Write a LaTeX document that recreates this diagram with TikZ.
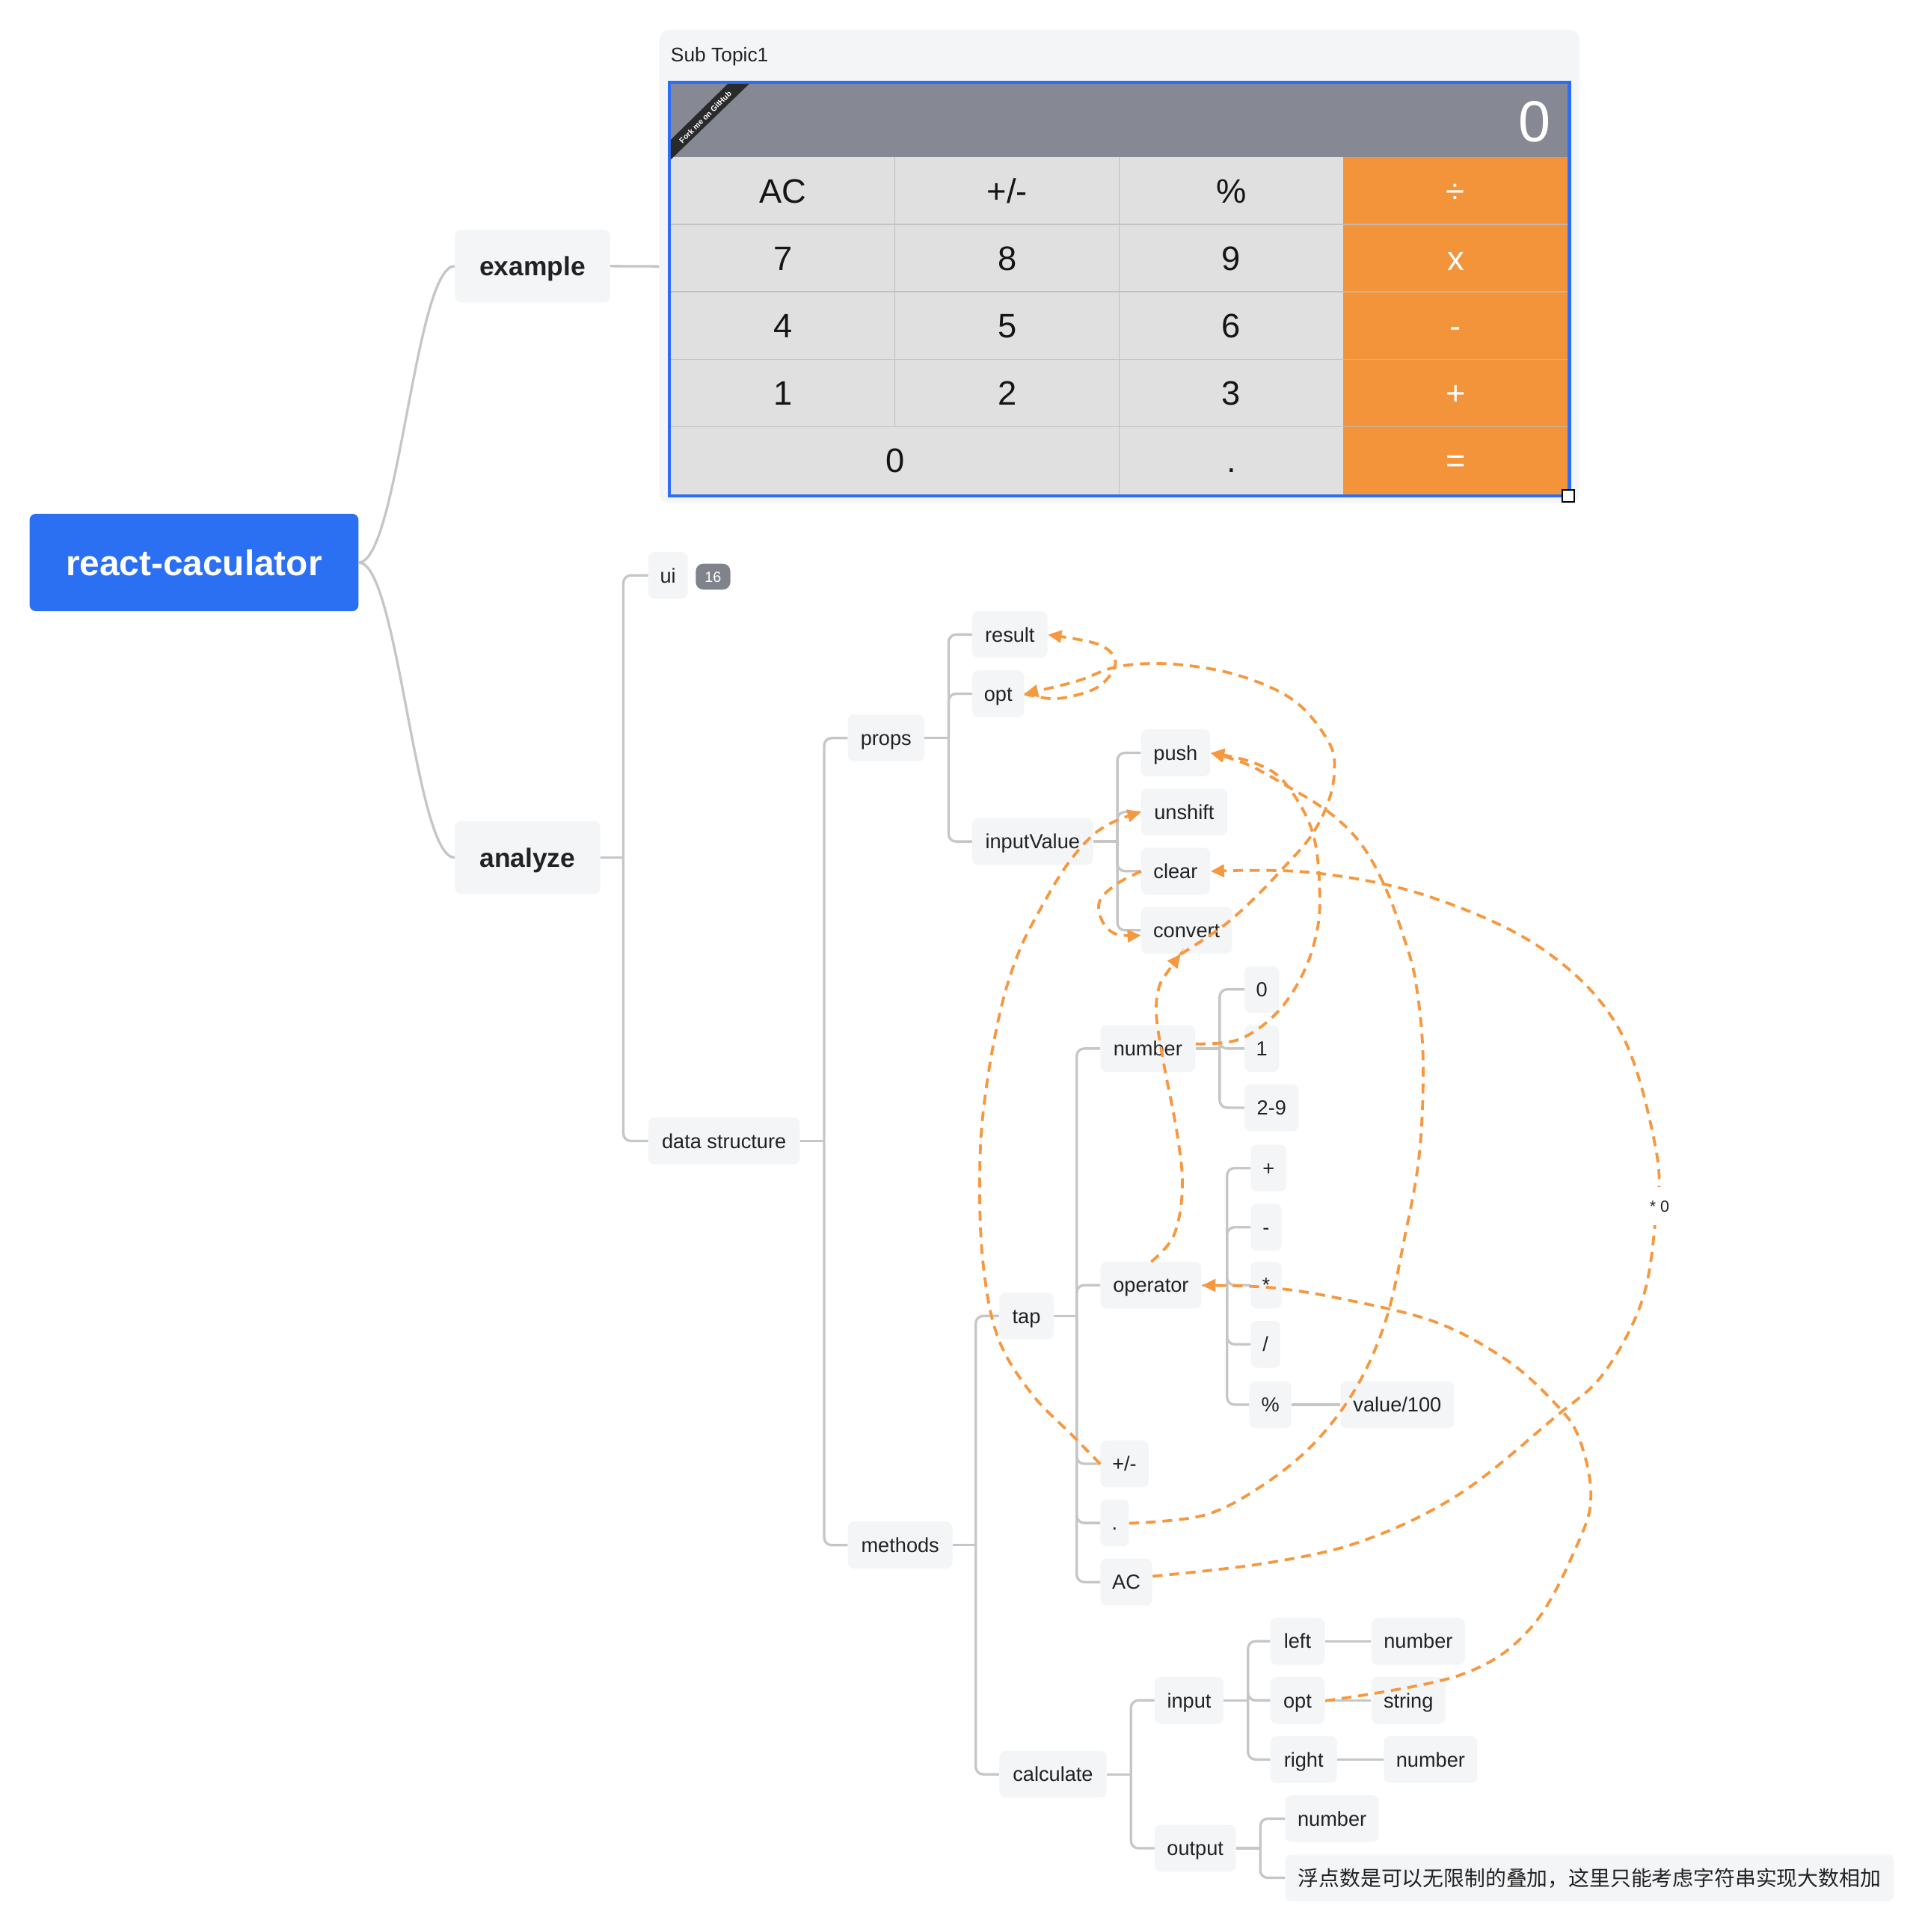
\documentclass[tikz,border=0pt]{standalone}
\usepackage{fontspec}
\setmainfont{Liberation Sans}
\newfontfamily\cjkfont{Noto Sans CJK SC}
\usetikzlibrary{arrows.meta,calc}
\definecolor{nodefill}{HTML}{F4F5F7}
\definecolor{conngray}{HTML}{C6C6C6}
\definecolor{rootblue}{HTML}{2B70F2}
\definecolor{frameblue}{HTML}{2B6DF6}
\definecolor{dispgray}{HTML}{868893}
\definecolor{keygray}{HTML}{E0E0E0}
\definecolor{keyline}{HTML}{BEBEC2}
\definecolor{keyorange}{HTML}{F3943B}
\definecolor{relorange}{HTML}{F7983F}
\definecolor{badgegray}{HTML}{80838B}
\definecolor{txt}{HTML}{222222}
\definecolor{calctxt}{HTML}{151515}
\definecolor{ribbon}{HTML}{2A2A2A}
\begin{document}
\begin{tikzpicture}[x=1pt,y=-1pt,
  topic/.style={fill=nodefill, rounded corners=5pt, anchor=west, minimum height=38pt,
    inner sep=0pt, text=txt, font=\fontsize{16.5}{20}\selectfont, text height=11.8pt, text depth=0pt},
  bw/.style={minimum width=#1pt},
  bigtopic/.style={fill=nodefill, rounded corners=5pt, anchor=west, minimum height=59pt,
    inner sep=0pt, text=txt, font=\bfseries\fontsize{21.5}{24}\selectfont, text height=15.4pt, text depth=0pt},
  badge/.style={fill=badgegray, rounded corners=6pt, text=white, minimum width=28pt,
    minimum height=21pt, inner sep=0pt, font=\fontsize{12}{12}\selectfont, text height=8.6pt, text depth=0pt},
  conn/.style={draw=conngray, line width=2pt, rounded corners=6pt},
  rel/.style={draw=relorange, line width=2.3pt, dash pattern=on 8pt off 5.5pt,
    -{Triangle[length=11pt,width=10pt]}},
  keytxt/.style={font=\fontsize{27.5}{30}\selectfont, text height=19.7pt, text depth=0pt,
    inner sep=0pt, text=calctxt},
  optxt/.style={keytxt, text=white},
]
\useasboundingbox (0,0) rectangle (1562,1568);
\fill[white] (0,0) rectangle (1562,1568);

% ---------- root and main branches
\node[fill=rootblue, rounded corners=5pt, minimum width=267pt, minimum height=79pt, inner sep=0pt,
  text=white, font=\bfseries\fontsize{29}{32}\selectfont, text height=20.8pt, text depth=0pt]
  (root) at (157.5,456.5) {react-caculator};
\node[bigtopic,bw=126] (example) at (369,216) {example};
\node[bigtopic,bw=118] (analyze) at (369,696) {analyze};

% ---------- Sub Topic1 container with calculator
\node[fill=nodefill, rounded corners=8pt, minimum width=747pt, minimum height=384pt,
  inner sep=0pt, anchor=north west] (sub) at (535,24) {};
\node[anchor=base west, inner sep=0pt, text=txt, font=\fontsize{16}{16}\selectfont]
  (subt) at (544.3,50.2) {Sub Topic1};
\fill[frameblue] (542,65.5) rectangle (1275.5,403.5);
\fill[dispgray] (544.5,68) rectangle (1272.5,127.5);
\fill[keygray] (544.5,127.5) rectangle (1090.5,401);
\fill[keyorange] (1090.5,127.5) rectangle (1272.5,401);
\foreach \yy in {182.2,236.9,291.6,346.3}
  \draw[keyline, line width=1pt, opacity=0.85] (544.5,\yy) -- (1272.5,\yy);
\draw[keyline, line width=0.8pt] (726.5,127.5) -- (726.5,346.3);
\draw[keyline, line width=0.8pt] (908.5,127.5) -- (908.5,401);
% ribbon
\fill[ribbon] (544.5,113.4) -- (590.8,68) -- (608.2,68) -- (544.5,129.5) -- cycle;
\node[rotate=45, text=white, inner sep=0pt, font=\bfseries\fontsize{6.3}{7}\selectfont]
  (fork) at (572.5,95) {Fork me on GitHub};
\node[anchor=east, text=white, inner sep=0pt, font=\fontsize{47}{50}\selectfont,
  text height=33.7pt, text depth=0pt] (disp) at (1259,98) {0};
% keys
\node[keytxt] (kAC) at (635.5,154.85) {AC};
\node[keytxt] (kPM) at (817.5,154.85) {+/-};
\node[keytxt] (kPc) at (999.5,154.85) {\%};
\node[optxt]  (kDv) at (1181.5,154.85) {÷};
\node[keytxt] (k7) at (635.5,209.55) {7};
\node[keytxt] (k8) at (817.5,209.55) {8};
\node[keytxt] (k9) at (999.5,209.55) {9};
\node[optxt]  (kX) at (1181.5,209.55) {x};
\node[keytxt] (k4) at (635.5,264.25) {4};
\node[keytxt] (k5) at (817.5,264.25) {5};
\node[keytxt] (k6) at (999.5,264.25) {6};
\node[optxt]  (kMi) at (1181.5,264.25) {-};
\node[keytxt] (k1) at (635.5,318.95) {1};
\node[keytxt] (k2) at (817.5,318.95) {2};
\node[keytxt] (k3) at (999.5,318.95) {3};
\node[optxt]  (kPl) at (1181.5,318.95) {+};
\node[keytxt] (k0) at (726.5,373.65) {0};
\node[keytxt] (kDt) at (999.5,373.65) {.};
\node[optxt]  (kEq) at (1181.5,373.65) {=};
\draw[black, fill=white, line width=1pt] (1268,397.5) rectangle (1278,407.5);

% ---------- analyze subtree nodes
\node[topic,bw=32] (ui) at (526,467) {ui};
\node[badge] (badge) at (578.8,468) {16};
\node[topic,bw=123] (ds) at (526,926) {data structure};
\node[topic,bw=62] (props) at (688,599) {props};
\node[topic,bw=85] (methods) at (688,1254) {methods};
\node[topic,bw=61] (result) at (789,515) {result};
\node[topic,bw=42] (opt) at (789,563) {opt};
\node[topic,bw=98] (inputValue) at (789,683) {inputValue};
\node[topic,bw=56] (push) at (926,611) {push};
\node[topic,bw=70] (unshift) at (926,659) {unshift};
\node[topic,bw=56] (clear) at (926,707) {clear};
\node[topic,bw=74] (convert) at (926,755) {convert};
\node[topic,bw=44] (tap) at (811,1068) {tap};
\node[topic,bw=87] (calculate) at (811,1440) {calculate};
\node[topic,bw=77] (number) at (893,851) {number};
\node[topic,bw=82] (operator) at (893,1043) {operator};
\node[topic,bw=39] (pm) at (893,1188) {+/-};
\node[topic,bw=23] (dot) at (893,1236) {.};
\node[topic,bw=42] (ac) at (893,1284) {AC};
\node[topic,bw=28] (n0) at (1010,803) {0};
\node[topic,bw=28] (n1) at (1010,851) {1};
\node[topic,bw=44] (n29) at (1010,899) {2-9};
\node[topic,bw=29] (plus) at (1015,948) {+};
\node[topic,bw=25] (minus) at (1015,996) {-};
\node[topic,bw=25] (times) at (1015,1043) {*};
\node[topic,bw=24] (divide) at (1015,1091) {/};
\node[topic,bw=34] (pct) at (1014,1140) {\%};
\node[topic,bw=92] (val) at (1088,1140) {value/100};
\node[topic,bw=56] (input) at (937,1380) {input};
\node[topic,bw=66] (output) at (937,1500) {output};
\node[topic,bw=44] (left) at (1031,1332) {left};
\node[topic,bw=44] (opt2) at (1031,1380) {opt};
\node[topic,bw=54] (right) at (1031,1428) {right};
\node[topic,bw=76] (numL) at (1113,1332) {number};
\node[topic,bw=60] (str) at (1113,1380) {string};
\node[topic,bw=76] (numR) at (1123,1428) {number};
\node[topic,bw=76] (numO) at (1043,1476) {number};
\node[topic,bw=494, font=\cjkfont\fontsize{16.9}{20}\selectfont, text height=12.9pt]
  (cn) at (1043,1524) {浮点数是可以无限制的叠加，这里只能考虑字符串实现大数相加};

% ---------- tree connectors
\draw[conn] (root.east) .. controls +(32,0) and +(-32,0) .. (example.west);
\draw[conn] (root.east) .. controls +(32,0) and +(-32,0) .. (analyze.west);
\draw[conn] (example.east) -- (sub.west);

\coordinate (sA) at (506,696);
\draw[conn] (analyze.east) -- (sA);
\foreach \c in {ui,ds} \draw[conn] (sA) |- (\c.west);

\coordinate (sDS) at (669,926);
\draw[conn] (ds.east) -- (sDS);
\foreach \c in {props,methods} \draw[conn] (sDS) |- (\c.west);

\coordinate (sP) at (770,599);
\draw[conn] (props.east) -- (sP);
\foreach \c in {result,opt,inputValue} \draw[conn] (sP) |- (\c.west);

\coordinate (sIV) at (907,683);
\draw[conn] (inputValue.east) -- (sIV);
\foreach \c in {push,unshift,clear,convert} \draw[conn] (sIV) |- (\c.west);

\coordinate (sM) at (792,1254);
\draw[conn] (methods.east) -- (sM);
\foreach \c in {tap,calculate} \draw[conn] (sM) |- (\c.west);

\coordinate (sT) at (874,1068);
\draw[conn] (tap.east) -- (sT);
\foreach \c in {number,operator,pm,dot,ac} \draw[conn] (sT) |- (\c.west);

\coordinate (sN) at (990,851);
\draw[conn] (number.east) -- (sN);
\foreach \c in {n0,n1,n29} \draw[conn] (sN) |- (\c.west);

\coordinate (sO) at (996,1043);
\draw[conn] (operator.east) -- (sO);
\foreach \c in {plus,minus,times,divide,pct} \draw[conn] (sO) |- (\c.west);
\draw[conn] (pct.east) -- (val.west);

\coordinate (sC) at (918,1440);
\draw[conn] (calculate.east) -- (sC);
\foreach \c in {input,output} \draw[conn] (sC) |- (\c.west);

\coordinate (sI) at (1013,1380);
\draw[conn] (input.east) -- (sI);
\foreach \c in {left,opt2,right} \draw[conn] (sI) |- (\c.west);
\draw[conn] (left.east) -- (numL.west);
\draw[conn] (opt2.east) -- (str.west);
\draw[conn] (right.east) -- (numR.west);

\coordinate (sOut) at (1023,1500);
\draw[conn] (output.east) -- (sOut);
\foreach \c in {numO,cn} \draw[conn] (sOut) |- (\c.west);

% ---------- relationship curves
\coordinate (cvb) at ([xshift=-5pt]convert.south);
\coordinate (nbe) at ([yshift=4pt]number.east);
\coordinate (ace) at ([yshift=5pt]ac.east);
\coordinate (cvw) at ([yshift=-4pt]convert.west);
\begin{scope}[scale=1.0018]
\draw[rel] plot[smooth, tension=0.6] coordinates {(opt.east) (856,566) (887,558) (902,543) (902,531) (887,521) (result.east)};
\draw[rel] plot[smooth, tension=0.6] coordinates {(cvb) (990,751) (1015,729) (1039,704) (1061,679) (1075,653) (1081,627) (1077,602) (1049,568) (1003,547) (950,538) (906,540) (872,552) (opt.east)};
\draw[rel] plot[smooth, tension=0.6] coordinates {(operator.north) (951,1001) (958,963) (954,920) (943,862) (937,823) (939,800) (947,786) (cvb)};
\draw[rel] plot[smooth, tension=0.6] coordinates {(nbe) (1004,842) (1035,820) (1057,786) (1068,749) (1069,715) (1065,680) (1054,653) (1035,628) (1010,616) (push.east)};
\draw[rel] plot[smooth, tension=0.6] coordinates {(dot.east) (975.6,1227.5) (1022,1204) (1065,1169) (1099.5,1123) (1123,1069) (1138,1003) (1150,935) (1153,857) (1147,795) (1137,758) (1122,718) (1103,684) (1078,659) (1044,637.5) (1010,619) (push.east)};
\draw[rel] plot[smooth, tension=0.6] coordinates {(pm.west) (870,1164) (835,1128) (808,1082) (796,1018) (794,941) (799,882) (811,817) (826,770) (846,731) (865,700) (885,677) (904,665) (unshift.west)};
\draw[rel] plot[smooth, tension=0.6] coordinates {(clear.west) (905,716) (891,730) (893,746) (904,756.6) (cvw)};
\draw[rel] plot[smooth, tension=0.6] coordinates {(ace) (1028,1266) (1105,1248) (1183,1210) (1260,1148) (1299,1113) (1330,1055) (1341,991) (1342,933) (1312,834) (1250,769) (1157,726) (1064,707) (clear.east)};
\draw[rel] plot[smooth, tension=0.6] coordinates {(opt2.east) (1183,1357) (1241,1318) (1279,1249) (1289,1210) (1279,1164) (1260,1137) (1221,1102) (1163,1071) (1086,1052) (1028,1043) (operator.east)};
\end{scope}
\node[fill=white, inner sep=0pt, minimum width=24pt, minimum height=31pt, text=txt,
  font=\fontsize{13}{13}\selectfont] (lbl) at (1347,979) {* 0};
\end{tikzpicture}
\end{document}
